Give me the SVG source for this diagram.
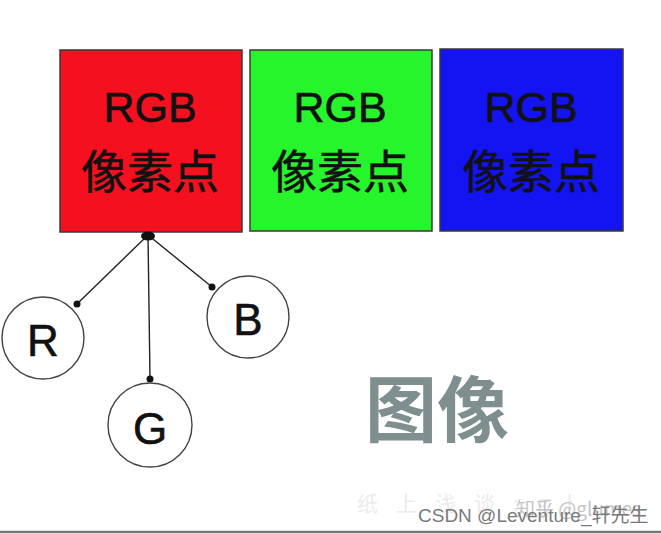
<svg xmlns="http://www.w3.org/2000/svg" width="661" height="534" viewBox="0 0 661 534">
  <style>
    .px { stroke: #3a3a3a; stroke-width: 1.5; }
    .pxt { font-family: "Liberation Sans", Arial, sans-serif; font-size: 43px; fill: #111; stroke: #111; stroke-width: 0.6; text-anchor: middle; }
    .pxc { font-family: "Noto Sans CJK SC", sans-serif; font-size: 46px; fill: #111; stroke: #111; stroke-width: 0.5; text-anchor: middle; }
    .ch { fill: #ffffff; stroke: #444; stroke-width: 1.4; }
    .cht { font-family: "Liberation Sans", Arial, sans-serif; font-size: 44px; fill: #111; stroke: #111; stroke-width: 0.6; text-anchor: middle; }
    .conn line { stroke: #222; stroke-width: 1.4; }
    .dot { fill: #111; }
  </style>
  <rect x="0" y="0" width="661" height="534" fill="#ffffff"/>

  <g id="pixel-red">
    <rect class="px" x="60" y="50" width="182" height="182" fill="#f5101f"/>
    <text class="pxt" x="150" y="122">RGB</text>
    <text class="pxc" x="150" y="188">像素点</text>
  </g>
  <g id="pixel-green">
    <rect class="px" x="250" y="50" width="182" height="181" fill="#27f52c"/>
    <text class="pxt" x="340" y="122">RGB</text>
    <text class="pxc" x="340" y="188">像素点</text>
  </g>
  <g id="pixel-blue">
    <rect class="px" x="440" y="49" width="183" height="182" fill="#1414f2"/>
    <text class="pxt" x="531" y="122">RGB</text>
    <text class="pxc" x="531" y="188">像素点</text>
  </g>

  <g id="connectors" class="conn">
    <line x1="148" y1="235" x2="77" y2="304"/>
    <line x1="148" y1="235" x2="150" y2="379"/>
    <line x1="148" y1="235" x2="212" y2="287"/>
    <ellipse class="dot" cx="148" cy="236" rx="7" ry="4.5"/>
    <circle class="dot" cx="77" cy="304" r="3.5"/>
    <circle class="dot" cx="150" cy="379" r="3.5"/>
    <circle class="dot" cx="212" cy="287" r="3.5"/>
  </g>

  <g id="node-R">
    <circle class="ch" cx="43" cy="338" r="41"/>
    <text class="cht" x="43" y="356">R</text>
  </g>
  <g id="node-G">
    <circle class="ch" cx="150" cy="425" r="42"/>
    <text class="cht" x="150" y="444">G</text>
  </g>
  <g id="node-B">
    <circle class="ch" cx="248" cy="317" r="41"/>
    <text class="cht" x="248" y="335">B</text>
  </g>

  <g id="label-image">
    <text x="437" y="436" font-family="'Noto Sans CJK SC', sans-serif" font-size="72" font-weight="bold" fill="#7f8e8e" text-anchor="middle">图像</text>
  </g>

  <g id="watermarks">
    <text x="357" y="511" font-family="'Noto Sans CJK SC', sans-serif" font-size="21" fill="#ececec" letter-spacing="18">纸上浅谈:gl</text>
    <text x="516" y="516" font-family="'Noto Sans CJK SC', sans-serif" font-size="19" fill="#c4c4c4">知乎 @glumes</text>
    <text x="418" y="522" font-family="'Liberation Sans', 'Noto Sans CJK SC', sans-serif" font-size="19" fill="#7a7a7a">CSDN @Leventure_轩先生</text>
  </g>

  <line x1="0" y1="532" x2="661" y2="532" stroke="#777" stroke-width="2.5"/>
</svg>
